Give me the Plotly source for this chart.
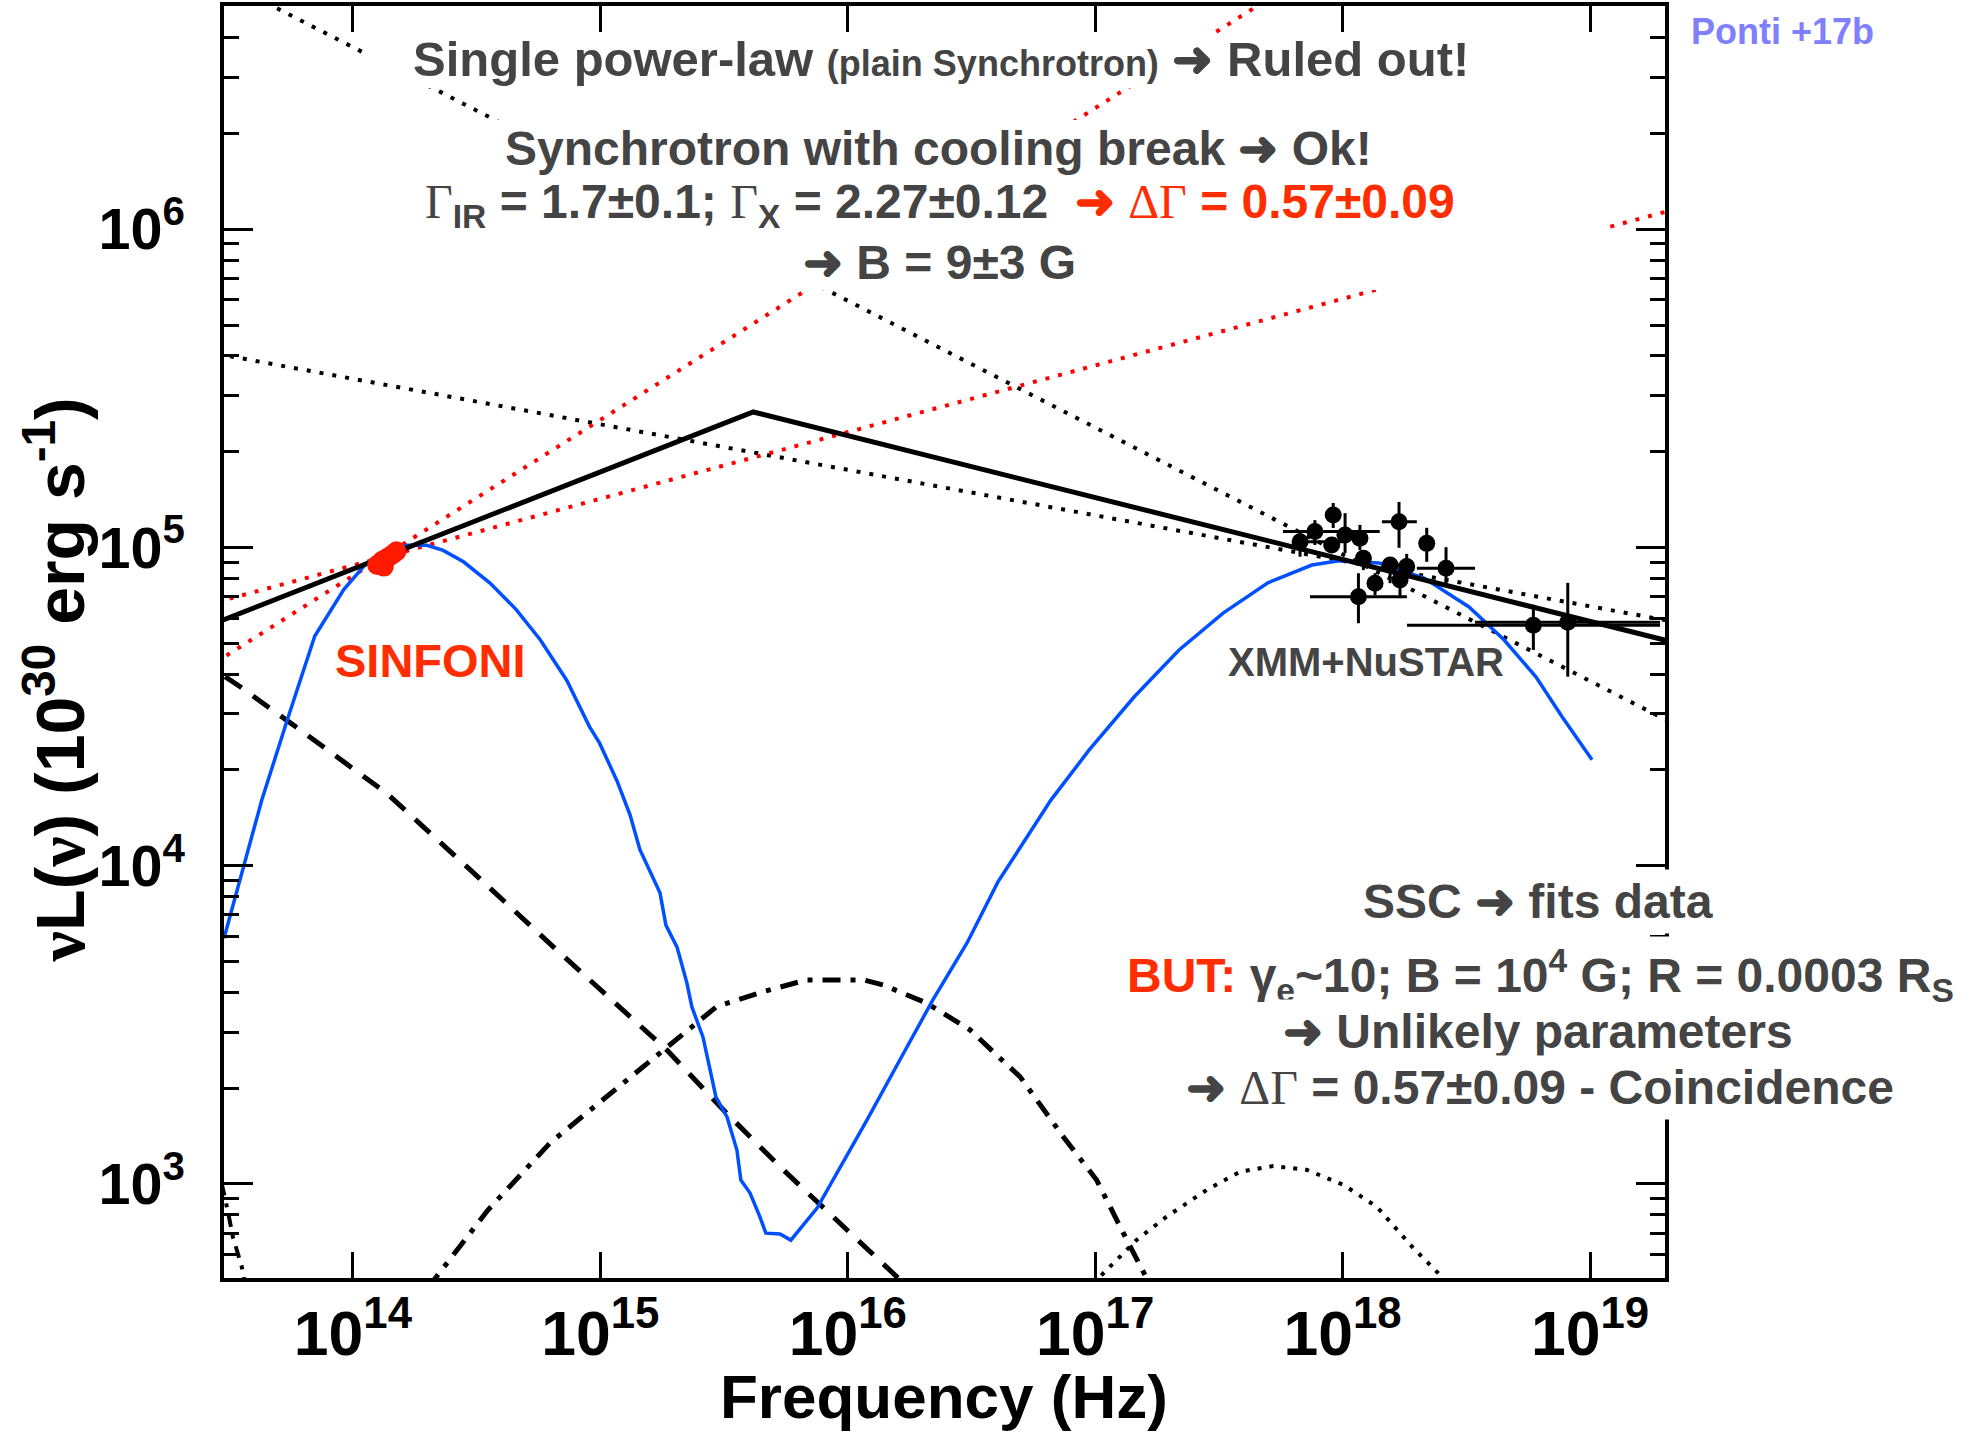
import numpy as np
import plotly.graph_objects as go

# ---------------- data (log10 values) ----------------
# straight power laws (two end points each, log10 nu, log10 nuLnu)
steep_pl_lognu = [13.60, 19.40]
steep_pl_logL = [6.732, 4.421]
red_steep_lognu = [13.40, 17.70]
red_steep_logL = [4.617, 6.724]
shallow_pl_lognu = [13.40, 19.40]
shallow_pl_logL = [5.616, 4.758]
red_shallow_lognu = [13.40, 19.40]
red_shallow_logL = [4.818, 6.075]
broken_pl_lognu = [13.40, 15.618, 19.40]
broken_pl_logL = [4.749, 5.426, 4.690]

# SSC total model (blue)
ssc_lognu = [13.479, 13.632, 13.734, 13.846, 13.963, 14.055, 14.136, 14.218, 14.299, 14.365,
             14.447, 14.554, 14.660, 14.757, 14.864, 14.956, 14.997, 15.067, 15.120, 15.160,
             15.241, 15.265, 15.310, 15.350, 15.370, 15.415, 15.455, 15.467, 15.512, 15.552,
             15.568, 15.605, 15.645, 15.669, 15.726, 15.770, 15.876, 15.940, 16.078, 16.211,
             16.344, 16.482, 16.607, 16.821, 16.975, 17.157, 17.339, 17.517, 17.698, 17.876,
             17.985, 18.147, 18.329, 18.511, 18.652, 18.782, 18.887, 19.008]
ssc_logL = [3.772, 4.207, 4.456, 4.722, 4.868, 4.951, 4.991, 5.007, 5.007, 4.991,
            4.955, 4.888, 4.805, 4.710, 4.583, 4.437, 4.385, 4.267, 4.160, 4.050,
            3.915, 3.813, 3.744, 3.631, 3.556, 3.461, 3.317, 3.273, 3.210, 3.106,
            3.012, 2.971, 2.896, 2.845, 2.842, 2.823, 2.924, 3.012, 3.201, 3.390,
            3.578, 3.757, 3.949, 4.206, 4.363, 4.530, 4.678, 4.794, 4.889, 4.945,
            4.958, 4.951, 4.904, 4.813, 4.710, 4.593, 4.468, 4.333]

# dashed component
dash_lognu = [13.483, 13.543, 13.786, 14.136, 14.470, 14.810, 15.268, 15.510, 15.739, 16.198, 16.250]
dash_logL = [4.594, 4.563, 4.427, 4.228, 3.990, 3.745, 3.421, 3.222, 3.044, 2.708, 2.670]

# dash-dot component
dashdot_lognu = [14.300, 14.345, 14.544, 14.796, 15.389, 15.470, 15.658, 15.834, 16.063, 16.144,
                 16.319, 16.494, 16.608, 16.696, 16.871, 17.006, 17.114, 17.208, 17.230]
dashdot_logL = [2.670, 2.715, 2.916, 3.128, 3.505, 3.557, 3.604, 3.641, 3.641, 3.625,
                3.568, 3.484, 3.400, 3.337, 3.148, 3.012, 2.845, 2.708, 2.670]

# dotted hump
hump_lognu = [17.000, 17.019, 17.168, 17.289, 17.451, 17.585, 17.720, 17.855, 18.003, 18.138, 18.286, 18.388, 18.400]
hump_logL = [2.680, 2.708, 2.824, 2.897, 2.981, 3.038, 3.056, 3.044, 2.997, 2.928, 2.798, 2.718, 2.690]

# short dash-dot tail at the lower left
tail_lognu = [13.470, 13.483, 13.495, 13.515, 13.535, 13.551, 13.560]
tail_logL = [3.000, 2.959, 2.912, 2.833, 2.777, 2.739, 2.700]

# SINFONI data
sinfoni_lognu = [14.098, 14.118, 14.140, 14.160, 14.176, 14.125]
sinfoni_logL = [4.945, 4.958, 4.968, 4.978, 4.988, 4.940]

# XMM + NuSTAR data
xray_lognu = [17.828, 17.888, 17.962, 17.956, 18.010, 18.070, 18.084, 18.064, 18.131, 18.192,
              18.232, 18.259, 18.228, 18.340, 18.418, 18.771, 18.910]
xray_lognu_lo = [17.806, 17.759, 17.937, 17.930, 17.976, 18.040, 18.060, 17.868, 18.100, 18.159,
                 18.200, 18.230, 18.159, 18.310, 18.300, 18.260, 18.535]
xray_lognu_hi = [18.004, 18.150, 17.989, 17.980, 18.056, 18.100, 18.110, 18.260, 18.160, 18.260,
                 18.260, 18.290, 18.300, 18.370, 18.535, 19.283, 19.283]
xray_logL = [5.018, 5.050, 5.102, 5.008, 5.039, 5.029, 4.966, 4.845, 4.888, 4.945,
             4.898, 4.940, 5.081, 5.013, 4.935, 4.756, 4.765]
xray_logL_lo = [4.971, 5.008, 5.061, 4.983, 4.983, 4.992, 4.929, 4.762, 4.850, 4.888,
                4.841, 4.900, 4.999, 4.955, 4.882, 4.678, 4.594]
xray_logL_hi = [5.046, 5.086, 5.140, 5.030, 5.108, 5.071, 4.992, 4.919, 4.919, 4.966,
                4.929, 4.980, 5.143, 5.062, 5.001, 4.820, 4.889]

x_range_log = [13.479, 19.303]
y_range_log = [2.704, 6.702]


def p10(a):
    return np.power(10.0, np.asarray(a, dtype=float))


GRAY = "#444444"
RED = "#ff2d00"
BLUE = "#0050ff"
FONT = "Liberation Sans, Arial, Helvetica, sans-serif"

fig = go.Figure()


def add_line(lx, ly, color, width, dash):
    fig.add_trace(go.Scatter(x=p10(lx), y=p10(ly), mode="lines",
                             line=dict(color=color, width=width, dash=dash),
                             hoverinfo="skip", showlegend=False))


add_line(steep_pl_lognu, steep_pl_logL, "black", 4, "4px,9px")
add_line(shallow_pl_lognu, shallow_pl_logL, "black", 4, "4px,9px")
add_line(red_steep_lognu, red_steep_logL, "#ff0000", 4, "4px,9px")
add_line(red_shallow_lognu, red_shallow_logL, "#ff0000", 4, "4px,9px")
add_line(dash_lognu, dash_logL, "black", 5, "20px,14px")
add_line(dashdot_lognu, dashdot_logL, "black", 5, "18px,10px,5px,10px")
add_line(hump_lognu, hump_logL, "black", 4, "4px,8px")
add_line(tail_lognu, tail_logL, "black", 4, "12px,8px,4px,8px")
add_line(ssc_lognu, ssc_logL, BLUE, 3.5, "solid")
add_line(broken_pl_lognu, broken_pl_logL, "black", 5, "solid")

# SINFONI points
fig.add_trace(go.Scatter(x=p10(sinfoni_lognu), y=p10(sinfoni_logL), mode="markers",
                         marker=dict(color="#ff1a00", size=20, line=dict(width=0)),
                         hoverinfo="skip", showlegend=False))

# X-ray points
xv = p10(xray_lognu)
yv = p10(xray_logL)
fig.add_trace(go.Scatter(
    x=xv, y=yv, mode="markers",
    marker=dict(color="black", size=17, line=dict(width=0)),
    error_x=dict(type="data", symmetric=False, array=p10(xray_lognu_hi) - xv,
                 arrayminus=xv - p10(xray_lognu_lo), color="black", thickness=3, width=0),
    error_y=dict(type="data", symmetric=False, array=p10(xray_logL_hi) - yv,
                 arrayminus=yv - p10(xray_logL_lo), color="black", thickness=3, width=0),
    hoverinfo="skip", showlegend=False))

# white boxes behind the top text blocks (they hide the lines)
shapes = [
    dict(type="rect", xref="paper", yref="paper", x0=0.0992, x1=0.8938, y0=0.9355, y1=0.978,
         fillcolor="white", line=dict(width=0), layer="above"),
    dict(type="rect", xref="paper", yref="paper", x0=0.1374, x1=0.9563, y0=0.7767, y1=0.9104,
         fillcolor="white", line=dict(width=0), layer="above"),
]

SERIF = "font-family:'Liberation Serif',serif;font-weight:normal"
ARROW = "➜"


def ann(text, x, y, size, color=GRAY, **kw):
    d = dict(text=text, x=x, y=y, xref="paper", yref="paper", showarrow=False,
             xanchor="center", yanchor="middle",
             font=dict(family=FONT, size=size, color=color, weight="bold"))
    d.update(kw)
    return d


WB = dict(bgcolor="white", borderpad=5)

annotations = [
    ann("Single power-law <span style='font-size:36px'>(plain Synchrotron)</span> " + ARROW + " Ruled out!",
        0.4976, 0.9583, 49),
    ann("Synchrotron with cooling break " + ARROW + " Ok!", 0.4958, 0.8876, 48),
    ann("<span style=\"" + SERIF + "\">Γ</span><sub>IR</sub> = 1.7±0.1; "
        "<span style=\"" + SERIF + "\">Γ</span><sub>X</sub> = 2.27±0.12  "
        "<span style='color:" + RED + "'>" + ARROW + " <span style=\"" + SERIF + "\">ΔΓ</span> = 0.57±0.09</span>",
        0.4967, 0.8436, 48),
    ann(ARROW + " B = 9±3 G", 0.4967, 0.7987, 48),
    ann("SSC " + ARROW + " fits data", 0.9119, 0.2956, 48, **WB),
    ann("<span style='color:" + RED + "'>BUT:</span> γ<sub>e</sub>~10; B = 10<sup>4</sup> G; R = 0.0003 R<sub>S</sub>",
        0.9133, 0.2382, 48, **WB),
    ann(ARROW + " Unlikely parameters", 0.9119, 0.1934, 48, **WB),
    ann(ARROW + " <span style=\"" + SERIF + "\">ΔΓ</span> = 0.57±0.09 - Coincidence", 0.9133, 0.1494, 48, **WB),
    ann("SINFONI", 0.143, 0.4851, 47, color=RED),
    ann("XMM+NuSTAR", 0.7925, 0.4843, 40),
    ann("Ponti +17b", 1.0812, 0.9803, 36, color="#8080ff"),
    ann("Frequency (Hz)", 0.4997, -0.0935, 62, color="black", borderpad=0),
    ann("<span style=\"font-family:'Liberation Serif',serif\">ν</span>L(<span style=\"font-family:'Liberation Serif',serif\">ν</span>) (10<sup>30</sup> erg s<sup>-1</sup>)",
        -0.117, 0.4701, 68, color="black", textangle=-90),
]

fig.update_layout(
    width=1975, height=1433,
    margin=dict(l=224, r=310, t=6, b=155, autoexpand=False),
    paper_bgcolor="white", plot_bgcolor="white",
    shapes=shapes, annotations=annotations,
    showlegend=False,
)

fig.update_xaxes(type="log", range=x_range_log, dtick=1, exponentformat="power",
                 showgrid=False, zeroline=False, showline=True, linewidth=4, linecolor="black",
                 mirror="ticks", ticks="inside", ticklen=26, tickwidth=3, tickcolor="black",
                 tickfont=dict(family=FONT, size=50, color="black", weight="bold"),
                 ticklabelstandoff=0)
fig.update_yaxes(type="log", range=y_range_log, dtick=1, exponentformat="power",
                 showgrid=False, zeroline=False, showline=True, linewidth=4, linecolor="black",
                 mirror="ticks", ticks="inside", ticklen=29, tickwidth=3, tickcolor="black",
                 minor=dict(ticks="inside", ticklen=15, tickwidth=3, tickcolor="black", showgrid=False),
                 tickfont=dict(family=FONT, size=46, color="black", weight="bold"),
                 ticklabelstandoff=26)

fig.write_html("out.html")
